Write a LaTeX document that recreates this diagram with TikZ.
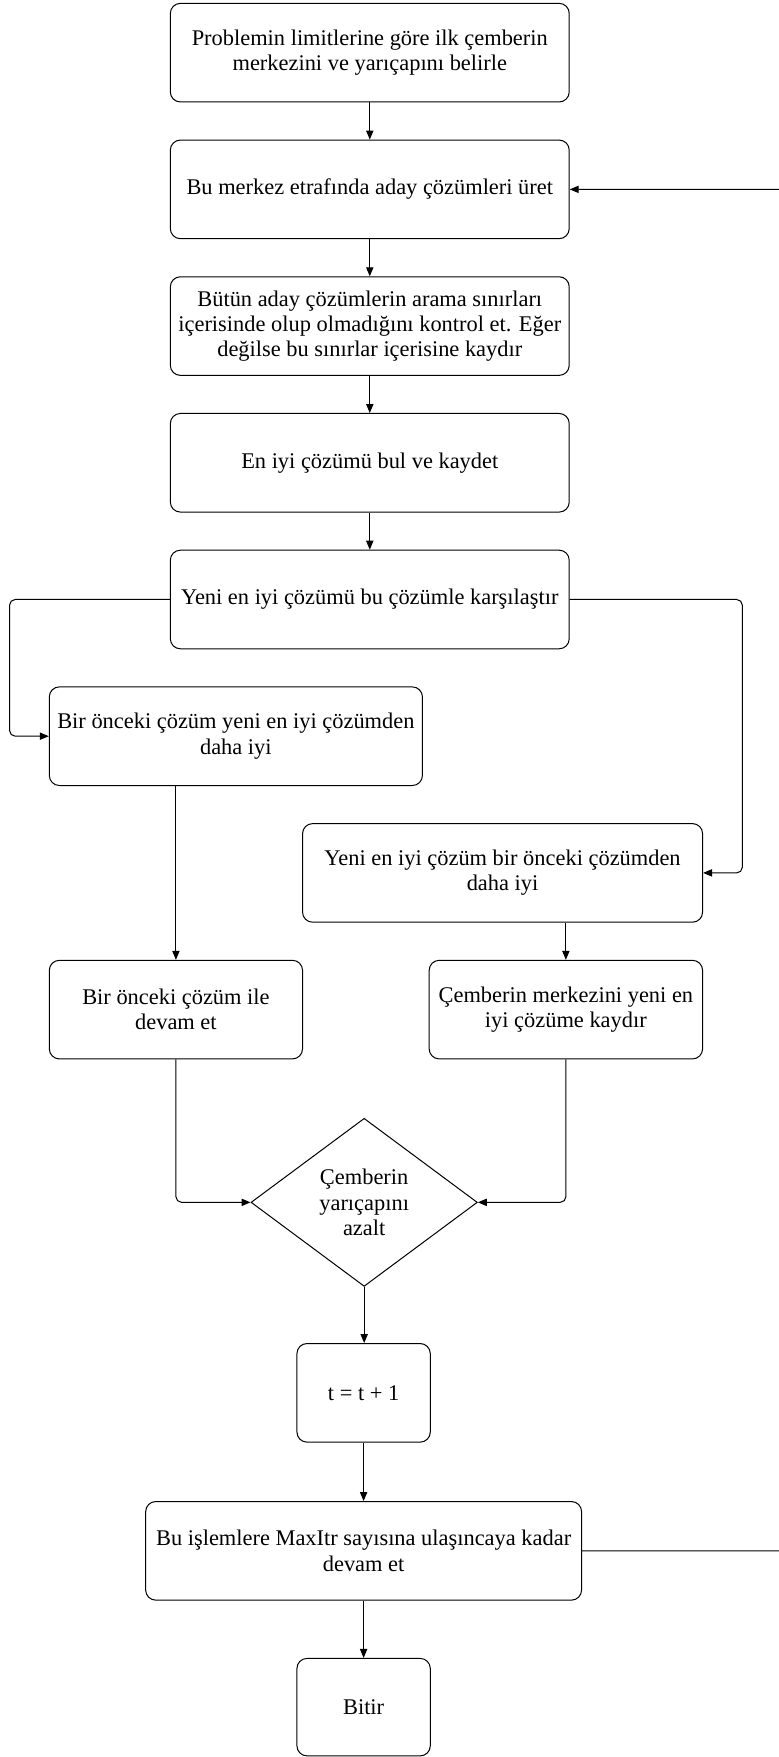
\documentclass[tikz,border=0pt]{standalone}
\usepackage{fontspec}
\setmainfont{Liberation Serif}
\usepackage{tikz}
\usetikzlibrary{arrows.meta,shapes.geometric,positioning}

\tikzset{
  kutu/.style={draw, rounded corners=9pt, line width=0.9pt, inner sep=0pt,
    align=center, minimum height=88pt, font=\fontsize{20}{22.5}\selectfont},
  karar/.style={draw, diamond, line width=0.9pt, inner sep=0pt, aspect=1.35,
    minimum width=202pt, minimum height=150pt, align=center,
    font=\fontsize{20}{22.5}\selectfont},
  ok/.style={line width=0.9pt, rounded corners=5pt,
    -{Triangle[length=8pt,width=6.5pt]}}
}

\begin{document}
\begin{tikzpicture}[x=1pt, y=-1pt]
% Sayfa
\path[use as bounding box, clip] (0,0) rectangle (695,1568);

% Kutular
\node[kutu, minimum width=356pt] (b1) at (330,47)
  {Problemin limitlerine göre ilk çemberin\\merkezini ve yarıçapını belirle};
\node[kutu, minimum width=356pt] (b2) at (330,169)
  {Bu merkez etrafında aday çözümleri üret};
\node[kutu, minimum width=356pt] (b3) at (330,291)
  {Bütün aday çözümlerin arama sınırları\\içerisinde olup olmadığını kontrol et. Eğer\\değilse bu sınırlar içerisine kaydır};
\node[kutu, minimum width=356pt] (b4) at (330,413)
  {En iyi çözümü bul ve kaydet};
\node[kutu, minimum width=356pt] (b5) at (330,535)
  {Yeni en iyi çözümü bu çözümle karşılaştır};
\node[kutu, minimum width=333pt] (b6) at (210.5,657)
  {Bir önceki çözüm yeni en iyi çözümden\\daha iyi};
\node[kutu, minimum width=357pt] (b7) at (448.5,779)
  {Yeni en iyi çözüm bir önceki çözümden\\daha iyi};
\node[kutu, minimum width=226pt] (b8) at (157,901)
  {Bir önceki çözüm ile\\devam et};
\node[kutu, minimum width=244pt] (b9) at (505,901)
  {Çemberin merkezini yeni en\\iyi çözüme kaydır};
\node[karar] (azalt) at (325,1073)
  {Çemberin\\yarıçapını\\azalt};
\node[kutu, minimum width=119pt] (b10) at (324.5,1243) {t = t + 1};
\node[kutu, minimum width=389pt] (b11) at (324.5,1384)
  {Bu işlemlere MaxItr sayısına ulaşıncaya kadar\\devam et};
\node[kutu, minimum width=119pt, minimum height=87pt] (bitir) at (324.5,1523.5) {Bitir};

% Oklar
\draw[ok] (b1) -- (b2);
\draw[ok] (b2) -- (b3);
\draw[ok] (b3) -- (b4);
\draw[ok] (b4) -- (b5);
\draw[ok] (b5.west) -- ++(-143,0) |- (b6.west);
\draw[ok] (b5.east) -- ++(154,0) |- (b7.east);
\draw[ok] (b8.north |- b6.south) -- (b8.north);
\draw[ok] (b9.north |- b7.south) -- (b9.north);
\draw[ok] (b8.south) |- (azalt.west);
\draw[ok] (b9.south) |- (azalt.east);
\draw[ok] (azalt.south) -- (b10.north -| azalt.south);
\draw[ok] (b10) -- (b11);
\draw[ok] (b11) -- (bitir);

% Geri donus
\draw[ok] (b11.east) -- ++(206,0) |- (b2.east);

\end{tikzpicture}
\end{document}
